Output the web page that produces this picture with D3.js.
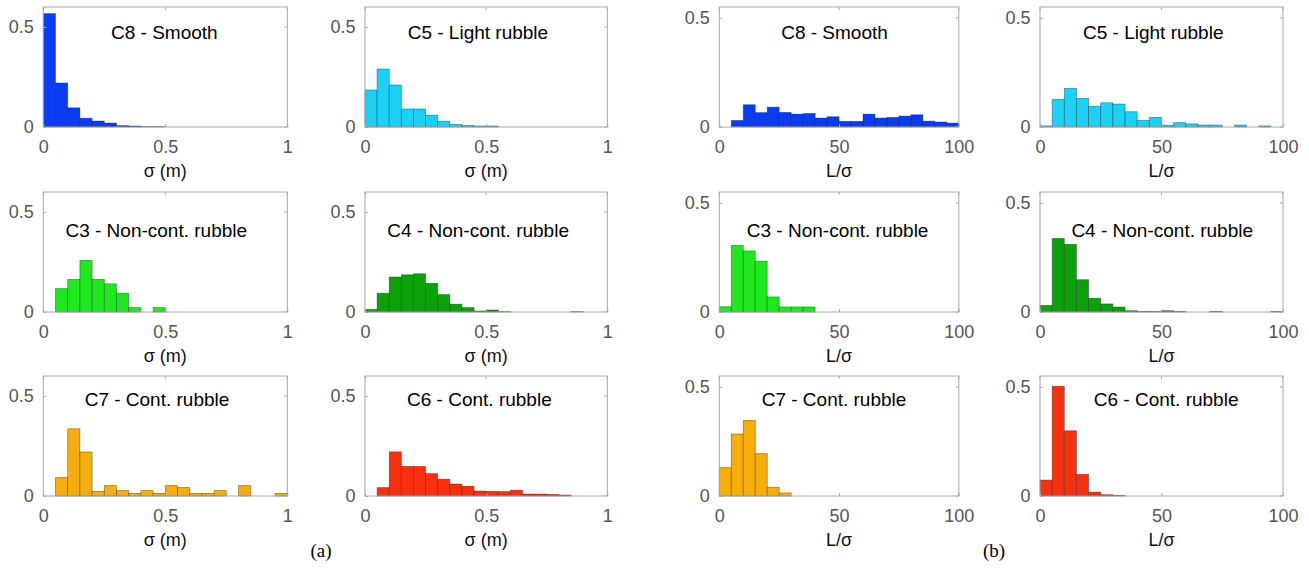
<!DOCTYPE html>
<html>
<head>
<meta charset="utf-8">
<script src="https://cdn.jsdelivr.net/npm/d3@7"></script>
<style>
  html, body { margin: 0; padding: 0; background: #fff; }
  svg { display: block; }
  .tick text { font-family: "Liberation Sans", Arial, Helvetica, sans-serif; font-size: 18px; fill: #555; }
</style>
</head>
<body>
<svg id="fig" width="1309" height="570"></svg>
<script>
// ---- Bin edges -------------------------------------------------------------
const sigmaEdges = [0, 0.05, 0.1, 0.15, 0.2, 0.25, 0.3, 0.35, 0.4, 0.45, 0.5,
                    0.55, 0.6, 0.65, 0.7, 0.75, 0.8, 0.85, 0.9, 0.95, 1];
const ratioEdges = [0, 5, 10, 15, 20, 25, 30, 35, 40, 45, 50,
                    55, 60, 65, 70, 75, 80, 85, 90, 95, 100];

// ---- Tick labels -----------------------------------------------------------
const sigmaTicks = [0, 0.5, 1];
const ratioTicks = [0, 50, 100];
const sigmaYTicks = [0, 0.5];
const ratioYTicks = [0, 0.5];

// ---- Class names -----------------------------------------------------------
const classTitles = {
  C8: "C8 - Smooth",
  C5: "C5 - Light rubble",
  C3: "C3 - Non-cont. rubble",
  C4: "C4 - Non-cont. rubble",
  C7: "C7 - Cont. rubble",
  C6: "C6 - Cont. rubble"
};

// ---- Normalised histograms of roughness sigma (m) --------------------------
const sigmaC8 = [0.567, 0.220, 0.096, 0.044, 0.030, 0.020, 0.007, 0.005, 0.002, 0.002,
                 0, 0, 0, 0, 0, 0, 0, 0, 0, 0];
const sigmaC5 = [0.185, 0.290, 0.210, 0.090, 0.090, 0.059, 0.029, 0.013, 0.008, 0.005,
                 0.005, 0, 0, 0, 0, 0, 0, 0, 0, 0];
const sigmaC3 = [0, 0.117, 0.163, 0.258, 0.163, 0.141, 0.094, 0.022, 0, 0.022,
                 0, 0, 0, 0, 0, 0, 0, 0, 0, 0];
const sigmaC4 = [0.013, 0.094, 0.175, 0.186, 0.191, 0.143, 0.087, 0.039, 0.022, 0.005,
                 0.010, 0.002, 0, 0, 0, 0, 0, 0.002, 0, 0];
const sigmaC7 = [0, 0.092, 0.336, 0.220, 0.023, 0.052, 0.027, 0.013, 0.027, 0.013,
                 0.052, 0.042, 0.013, 0.013, 0.027, 0, 0.052, 0, 0, 0.013];
const sigmaC6 = [0, 0.042, 0.221, 0.148, 0.148, 0.112, 0.084, 0.060, 0.049, 0.025,
                 0.023, 0.022, 0.029, 0.010, 0.010, 0.008, 0.005, 0, 0, 0];

// ---- Normalised histograms of correlation ratio L/sigma --------------------
const ratioC8 = [0, 0.030, 0.102, 0.066, 0.091, 0.067, 0.059, 0.062, 0.041, 0.047,
                 0.026, 0.026, 0.059, 0.041, 0.044, 0.050, 0.056, 0.027, 0.023, 0.018];
const ratioC5 = [0.005, 0.127, 0.177, 0.131, 0.095, 0.111, 0.105, 0.070, 0.030, 0.044,
                 0.008, 0.020, 0.014, 0.009, 0.009, 0, 0.009, 0, 0.005, 0];
const ratioC3 = [0.024, 0.305, 0.280, 0.233, 0.069, 0.023, 0.023, 0.023, 0, 0,
                 0, 0, 0, 0, 0, 0, 0, 0, 0, 0];
const ratioC4 = [0.030, 0.337, 0.310, 0.148, 0.063, 0.037, 0.023, 0.006, 0.003, 0.003,
                 0.006, 0.003, 0, 0, 0.003, 0, 0, 0, 0, 0.003];
const ratioC7 = [0.130, 0.284, 0.346, 0.194, 0.040, 0.014, 0, 0, 0, 0,
                 0, 0, 0, 0, 0, 0, 0, 0, 0, 0];
const ratioC6 = [0.073, 0.503, 0.299, 0.099, 0.018, 0.006, 0.003, 0, 0, 0,
                 0, 0, 0, 0, 0, 0, 0, 0, 0, 0];

// ---- Styling ---------------------------------------------------------------
const classColors = {
  C8: "#0b3cf2",
  C5: "#1bd2f6",
  C3: "#1ee81e",
  C4: "#0ba10b",
  C7: "#f7ae0c",
  C6: "#f8300f"
};
const FONT = '"Liberation Sans", Arial, Helvetica, sans-serif';

// Panel grid: three rows of two axes in each of the two groups
const rowTops = [7, 192, 376];
const axisHeight = 120;
const groups = [
  {
    key: "sigma", edges: sigmaEdges, xTicks: sigmaTicks, yTicks: sigmaYTicks,
    yMax: 0.6, xLabel: "σ (m)", tag: "(a)", tagX: 321,
    cols: [[43.3, 287.3], [365, 607.3]],
    series: { C8: sigmaC8, C5: sigmaC5, C3: sigmaC3, C4: sigmaC4, C7: sigmaC7, C6: sigmaC6 },
    titleAt: { C8: [0.496, 32.3], C5: [0.466, 32.3], C3: [0.463, 45], C4: [0.467, 45], C7: [0.466, 30.3], C6: [0.472, 30.3] }
  },
  {
    key: "ratio", edges: ratioEdges, xTicks: ratioTicks, yTicks: ratioYTicks,
    yMax: 0.55, xLabel: "L/σ", tag: "(b)", tagX: 994,
    cols: [[719.3, 958.8], [1040, 1283]],
    series: { C8: ratioC8, C5: ratioC5, C3: ratioC3, C4: ratioC4, C7: ratioC7, C6: ratioC6 },
    titleAt: { C8: [0.481, 32.3], C5: [0.466, 32.3], C3: [0.494, 45], C4: [0.503, 45], C7: [0.479, 30.3], C6: [0.519, 30.3] }
  }
];
const gridOrder = [["C8", "C5"], ["C3", "C4"], ["C7", "C6"]];

const svg = d3.select("#fig");

groups.forEach(group => {
  gridOrder.forEach((rowKeys, r) => {
    rowKeys.forEach((cls, c) => {
      const [x0, x1] = group.cols[c];
      const top = rowTops[r];
      const w = x1 - x0;
      const h = axisHeight;
      const values = group.series[cls];
      const edges = group.edges;

      const x = d3.scaleLinear().domain([edges[0], edges[edges.length - 1]]).range([0, w]);
      const y = d3.scaleLinear().domain([0, group.yMax]).range([h, 0]);

      const g = svg.append("g").attr("transform", `translate(${x0},${top})`);

      // histogram bars
      const bins = values.map((v, i) => ({ x0: edges[i], x1: edges[i + 1], v }))
                         .filter(d => d.v > 0);
      g.append("g").selectAll("rect")
        .data(bins)
        .join("rect")
        .attr("x", d => x(d.x0))
        .attr("y", d => y(d.v))
        .attr("width", d => x(d.x1) - x(d.x0))
        .attr("height", d => y(0) - y(d.v))
        .attr("fill", classColors[cls])
        .attr("stroke", "#1a1a1a")
        .attr("stroke-opacity", 0.45)
        .attr("stroke-width", 0.8);

      // box outline
      g.append("rect")
        .attr("x", 0).attr("y", 0).attr("width", w).attr("height", h)
        .attr("fill", "none").attr("stroke", "#a8a8a8").attr("stroke-width", 1);

      // axes with inward ticks
      const xAxis = d3.axisBottom(x).tickValues(group.xTicks)
        .tickFormat(d3.format("~g")).tickSize(-3).tickPadding(13.5);
      const yAxis = d3.axisLeft(y).tickValues(group.yTicks)
        .tickFormat(d3.format("~g")).tickSize(-3).tickPadding(9.5);

      const gx = g.append("g").attr("transform", `translate(0,${h})`).call(xAxis);
      const gy = g.append("g").call(yAxis);
      [gx, gy].forEach(a => {
        a.select(".domain").remove();
        a.selectAll(".tick line").attr("stroke", "#a8a8a8");
      });

      // mirrored ticks on top and right edges
      g.append("g").selectAll("line").data(group.xTicks).join("line")
        .attr("x1", d => x(d)).attr("x2", d => x(d))
        .attr("y1", 0).attr("y2", 3).attr("stroke", "#a8a8a8");
      g.append("g").selectAll("line").data(group.yTicks).join("line")
        .attr("x1", w).attr("x2", w - 3)
        .attr("y1", d => y(d)).attr("y2", d => y(d)).attr("stroke", "#a8a8a8");

      // x-axis label
      g.append("text")
        .attr("x", w / 2).attr("y", h + 49.5)
        .attr("text-anchor", "middle")
        .attr("font-family", FONT).attr("font-size", 18).attr("fill", "#111")
        .text(group.xLabel);

      // class title inside the axes
      const [tx, ty] = group.titleAt[cls];
      g.append("text")
        .attr("x", tx * w).attr("y", ty)
        .attr("text-anchor", "middle")
        .attr("font-family", FONT).attr("font-size", 19).attr("fill", "#000")
        .text(classTitles[cls]);
    });
  });

  // sub-figure tag
  svg.append("text")
    .attr("x", group.tagX).attr("y", 557)
    .attr("text-anchor", "middle")
    .attr("font-family", '"Liberation Serif", "Times New Roman", serif')
    .attr("font-size", 19).attr("fill", "#000")
    .text(group.tag);
});
</script>
</body>
</html>
